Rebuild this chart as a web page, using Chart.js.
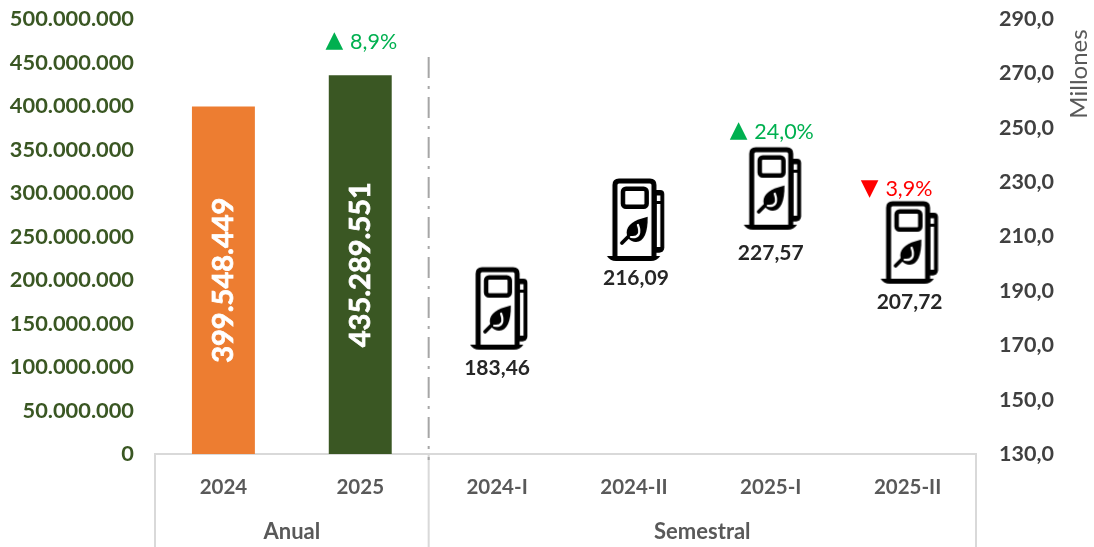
<!DOCTYPE html>
<html><head><meta charset="utf-8">
<style>html,body{margin:0;padding:0;background:#fff}canvas{display:block}</style>
<script src="https://cdn.jsdelivr.net/npm/chart.js@4"></script></head>
<body><div style="width:1094px;height:547px"><canvas id="c"></canvas></div>
<script>
const categories=['2024','2025','2024-I','2024-II','2025-I','2025-II'];
const annualValues=[399548449,435289551,null,null,null,null];
const semesterValues=[null,null,183.46,216.09,227.57,207.72];
const annualLabels=['399.548.449','435.289.551'];
const semesterLabels=['183,46','216,09','227,57','207,72'];
const changeLabels=[null,'▲ 8,9%',null,null,'▲ 24,0%','▼ 3,9%'];
const groups=[{name:'Anual',from:0,to:1},{name:'Semestral',from:2,to:5}];
const FONT='Lato, Carlito, sans-serif';
const GREEN='#00B050',RED='#FF0000',DARKG='#3A5723',GREY='#595959',DARK='#404040',LINE='#D9D9D9';

function makeIcon(){
  const c=document.createElement('canvas');c.width=62;c.height=86;
  const x=c.getContext('2d');x.strokeStyle='#000';x.fillStyle='#000';x.lineJoin='round';x.lineCap='butt';
  // hose block with its two white slits
  x.beginPath();x.roundRect(50,13,11.3,62.7,[0,4,5,0]);x.fill();
  x.fillStyle='#fff';x.fillRect(53.8,18.5,3.6,5.5);x.fillRect(53.8,27,3.6,43);x.fillStyle='#000';
  // body
  x.fillStyle='#fff';x.fillRect(12,4,39,78);x.fillStyle='#000';
  x.lineWidth=5;x.beginPath();x.moveTo(12,81);x.lineTo(12,8);x.quadraticCurveTo(12,4,16,4);x.lineTo(47,4);x.quadraticCurveTo(51,4,51,8);x.lineTo(51,81);x.stroke();
  // screen
  x.lineWidth=4.5;x.beginPath();x.roundRect(20,11.7,23.7,18,3);x.stroke();
  // base
  x.beginPath();x.moveTo(4,79);x.lineTo(57.3,79);x.quadraticCurveTo(54,84,48,84);x.lineTo(13,84);x.quadraticCurveTo(7,84,4,79);x.fill();
  // leaf
  x.beginPath();x.moveTo(44.7,39.7);x.bezierCurveTo(36,42,26,45,24,53);x.bezierCurveTo(22.5,60,27,65,33,65);x.bezierCurveTo(41,65,45,55,44.7,39.7);x.closePath();x.fill();
  x.lineWidth=3.8;x.lineCap='round';x.beginPath();x.moveTo(19,66);x.lineTo(27,58);x.stroke();
  x.strokeStyle='#fff';x.lineWidth=2.2;x.beginPath();x.moveTo(28,60);x.bezierCurveTo(36,61,38,56,35,48);x.stroke();
  return c;
}
const icon=makeIcon();

const overlay={id:'overlay',afterDatasetsDraw(ch){
  const {ctx,scales:{x,y,y1},chartArea:a}=ch;
  const half=(x.getPixelForValue(1)-x.getPixelForValue(0))/2;
  ctx.save();
  ctx.fillStyle='#fff';ctx.strokeStyle='#fff';ctx.lineWidth=0.7;ctx.font='bold 29px '+FONT;ctx.textAlign='center';ctx.textBaseline='middle';
  annualLabels.forEach((t,i)=>{
    const px=x.getPixelForValue(i),py=(y.getPixelForValue(annualValues[i])+y.getPixelForValue(0))/2;
    ctx.save();ctx.translate(px,py);ctx.rotate(-Math.PI/2);ctx.fillText(t,0,0);ctx.strokeText(t,0,0);ctx.restore();
  });
  const nudgeY=[0,-2,5,0],nudgeX=[0,2,0,2];
  ctx.fillStyle='#262626';ctx.font='bold 21px '+FONT;
  semesterLabels.forEach((t,i)=>{
    const k=i+2;ctx.fillText(t,x.getPixelForValue(k)+nudgeX[i],y1.getPixelForValue(semesterValues[k])+60+nudgeY[i]);
  });
  changeLabels.forEach((t,i)=>{
    if(!t)return;
    const up=t[0]==='▲',glyph=t[0],rest=t.slice(2);
    const base=i<2?y.getPixelForValue(annualValues[i])-33:y1.getPixelForValue(semesterValues[i])-(up?57:54);
    const cx=x.getPixelForValue(i)+(i===5?-11:1);
    ctx.fillStyle=up?GREEN:RED;ctx.textAlign='left';
    ctx.font='21.5px '+FONT;const wr=ctx.measureText(rest).width;
    ctx.font='23px "DejaVu Sans"';const wg=ctx.measureText(glyph).width;
    const gap=7,left=cx-(wg+gap+wr)/2;
    ctx.fillText(glyph,left,base-(up?1:0));
    ctx.font='21.5px '+FONT;ctx.fillText(rest,left+wg+gap,base);
  });
  ctx.textAlign='center';
  // multi-level axis
  const bottom=ch.height,ax=a.bottom+1;
  const sep=x.getPixelForValue(1)+half;
  ctx.strokeStyle=LINE;ctx.lineWidth=2;
  ctx.beginPath();
  ctx.moveTo(a.left,ax);ctx.lineTo(a.left,bottom);
  ctx.moveTo(sep,ax);ctx.lineTo(sep,bottom);
  ctx.moveTo(a.right,ax);ctx.lineTo(a.right,bottom);
  ctx.stroke();
  ctx.strokeStyle='#A6A6A6';ctx.lineWidth=2;ctx.setLineDash([21,8,3,8]);
  ctx.beginPath();ctx.moveTo(sep,57);ctx.lineTo(sep,460);ctx.stroke();ctx.setLineDash([]);
  ctx.fillStyle=GREY;ctx.font='bold 22px '+FONT;
  groups.forEach(g=>{
    const c=(x.getPixelForValue(g.from)+x.getPixelForValue(g.to))/2;
    ctx.fillText(g.name,c,532);
  });
  ctx.save();ctx.translate(1079,74);ctx.rotate(-Math.PI/2);ctx.fillStyle=GREY;ctx.font='24px '+FONT;ctx.fillText('Millones',0,0);ctx.restore();
  ctx.restore();
}};

new Chart(document.getElementById('c'),{
  data:{labels:categories,datasets:[
    {type:'bar',data:annualValues,yAxisID:'y',backgroundColor:['#ED7D31','#3A5723'],barPercentage:.46,categoryPercentage:1,grouped:false},
    {type:'line',data:semesterValues,yAxisID:'y1',showLine:false,pointStyle:icon,pointRadius:30,pointHoverRadius:30,clip:false}
  ]},
  options:{responsive:true,maintainAspectRatio:false,animation:false,events:[],
    layout:{autoPadding:false,padding:{top:19,bottom:0,left:0,right:0}},
    plugins:{legend:{display:false},tooltip:{enabled:false},title:{display:false}},
    scales:{
      x:{grid:{display:false,drawTicks:false},border:{display:true,color:LINE,width:2},
        ticks:{padding:21,color:GREY,font:{family:FONT,weight:'bold',size:20.5},maxRotation:0,autoSkip:false},
        afterFit(s){s.height=93;s.paddingLeft=0;s.paddingRight=0;}},
      y:{position:'left',min:0,max:500000000,grid:{display:false,drawTicks:false},border:{display:false},
        ticks:{stepSize:50000000,padding:21,color:DARKG,font:{family:FONT,weight:'bold',size:21.8},
          callback:v=>v.toLocaleString('de-DE')},
        afterFit(s){s.width=155;s.paddingTop=0;s.paddingBottom=0;}},
      y1:{position:'right',min:130,max:290,grid:{display:false,drawTicks:false},border:{display:false},
        ticks:{stepSize:20,padding:23,color:DARK,font:{family:FONT,weight:'bold',size:21.5},
          callback:v=>v.toFixed(1).replace('.',',')},
        afterFit(s){s.width=118;s.paddingTop=0;s.paddingBottom=0;}}
    }}
  ,plugins:[overlay]});
</script></body></html>
